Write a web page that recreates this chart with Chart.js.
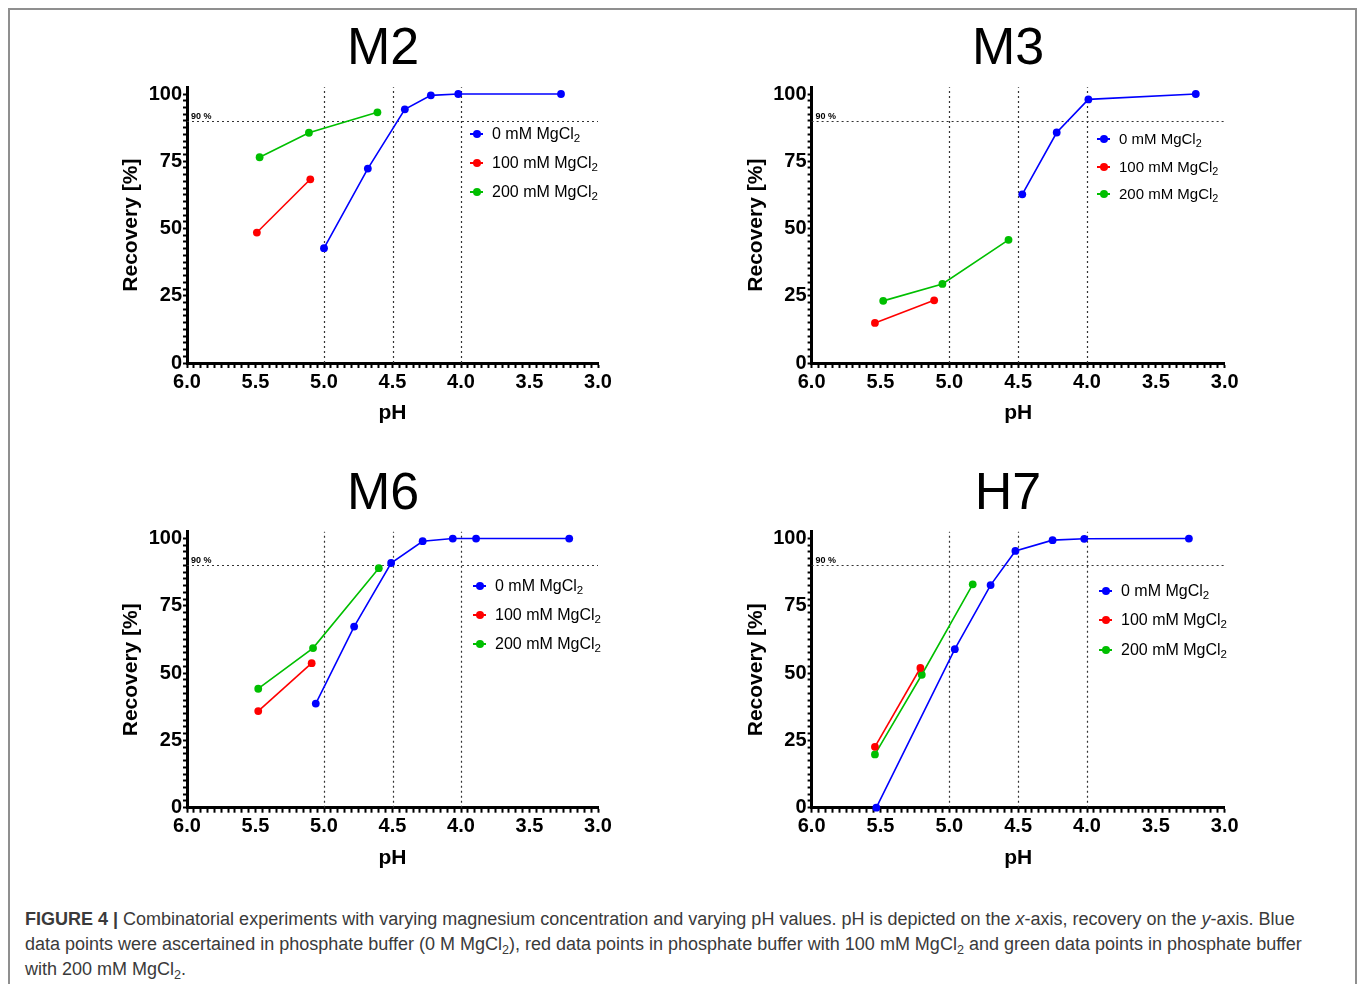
<!DOCTYPE html>
<html>
<head>
<meta charset="utf-8">
<script src="https://cdn.jsdelivr.net/npm/chart.js@4.4.0/dist/chart.umd.min.js"></script>
<style>
  body { margin: 0; background: #fff; font-family: "Liberation Sans", Arial, sans-serif; overflow: hidden; }
  #frame { position: absolute; left: 8px; top: 8px; width: 1345px; height: 1000px; border: 2px solid #8f8f8f; }
  .panel { position: absolute; width: 520px; height: 380px; }
  .panel canvas { display: block; }
  .ptitle { position: absolute; width: 200px; margin-left: -100px; text-align: center; font-size: 52px; line-height: 52px; color: #000; }
  .lrow { position: absolute; height: 20px; font-size: 16px; line-height: 20px; color: #000; white-space: nowrap; }
  .lrow .ln { position: absolute; left: 0; top: 9px; width: 13px; height: 2px; }
  .lrow .dot { position: absolute; left: 3px; top: 6px; width: 8px; height: 8px; border-radius: 50%; }
  .lrow .txt { position: absolute; left: 22px; top: 0; }
  .lrow sub { font-size: 0.72em; vertical-align: -0.28em; line-height: 0; }
  #caption { position: absolute; left: 25px; top: 907px; font-size: 18px; line-height: 25px; color: #3a3a3a; white-space: nowrap; }
  #caption sub { font-size: 0.7em; vertical-align: -0.3em; line-height: 0; }
</style>
</head>
<body>
<div id="frame"></div>
<div id="panels"></div>
<div id="caption">
  <b>FIGURE 4 |</b> Combinatorial experiments with varying magnesium concentration and varying pH values. pH is depicted on the <i>x</i>-axis, recovery on the <i>y</i>-axis. Blue<br>
  data points were ascertained in phosphate buffer (0 M MgCl<sub>2</sub>), red data points in phosphate buffer with 100 mM MgCl<sub>2</sub> and green data points in phosphate buffer<br>
  with 200 mM MgCl<sub>2</sub>.
</div>

<script>
// series names (MgCl2 concentration)
const concLabels = ['0 mM', '100 mM', '200 mM'];
const seriesColors = ['#0000ff', '#ff0000', '#00bf00'];

// axis ticks
const phTickLabels = [6.0, 5.5, 5.0, 4.5, 4.0, 3.5, 3.0];
const recTickLabels = [0, 25, 50, 75, 100];
const refPh = [5.0, 4.5, 4.0];   // dotted vertical lines
const refRecovery = 90;          // dotted 90 % line

// M2
const phM2Blue = [5.00, 4.68, 4.41, 4.22, 4.02, 3.27];
const recM2Blue = [42.7, 72.3, 94.3, 99.5, 100, 100];
const phM2Red = [5.49, 5.10];
const recM2Red = [48.5, 68.3];
const phM2Green = [5.47, 5.11, 4.61];
const recM2Green = [76.5, 85.6, 93.2];

// M3
const phM3Blue = [4.47, 4.22, 3.99, 3.21];
const recM3Blue = [62.7, 85.7, 98.0, 100];
const phM3Red = [5.54, 5.11];
const recM3Red = [14.9, 23.3];
const phM3Green = [5.48, 5.05, 4.57];
const recM3Green = [23.1, 29.4, 45.8];

// M6
const phM6Blue = [5.06, 4.78, 4.51, 4.28, 4.06, 3.89, 3.21];
const recM6Blue = [38.7, 67.3, 90.9, 99.0, 100, 100, 100];
const phM6Red = [5.48, 5.09];
const recM6Red = [35.9, 53.7];
const phM6Green = [5.48, 5.08, 4.60];
const recM6Green = [44.2, 59.3, 89.0];

// H7
const phH7Blue = [5.53, 4.96, 4.70, 4.52, 4.25, 4.02, 3.26];
const recH7Blue = [0, 58.9, 82.7, 95.4, 99.4, 99.9, 100];
const phH7Red = [5.54, 5.21];
const recH7Red = [22.6, 51.9];
const phH7Green = [5.54, 5.20, 4.83];
const recH7Green = [19.8, 49.4, 83.0];

const panels = [
  { name: 'M2', ph: [phM2Blue, phM2Red, phM2Green], rec: [recM2Blue, recM2Red, recM2Green],
    left: 100, top: 60, yWidth: 87, padTop: 27.3, padRight: 22, xHeight: 77,
    titleX: 383, titleY: 20, legX: 470, legY: [134, 163, 192], legFont: 16 },
  { name: 'M3', ph: [phM3Blue, phM3Red, phM3Green], rec: [recM3Blue, recM3Red, recM3Green],
    left: 725, top: 60, yWidth: 86.6, padTop: 27.3, padRight: 20.3, xHeight: 77,
    titleX: 1008, titleY: 20, legX: 1097, legY: [139, 167, 194], legFont: 15 },
  { name: 'M6', ph: [phM6Blue, phM6Red, phM6Green], rec: [recM6Blue, recM6Red, recM6Green],
    left: 100, top: 505, yWidth: 87, padTop: 26.8, padRight: 22, xHeight: 77.3,
    titleX: 383, titleY: 465, legX: 473, legY: [586, 615, 644], legFont: 16 },
  { name: 'H7', ph: [phH7Blue, phH7Red, phH7Green], rec: [recH7Blue, recH7Red, recH7Green],
    left: 725, top: 505, yWidth: 86.6, padTop: 26.8, padRight: 20.3, xHeight: 77.3,
    titleX: 1008, titleY: 465, legX: 1099, legY: [591, 620, 650], legFont: 16 }
];

// dotted reference lines + "90 %" label
const refLines = {
  id: 'refLines',
  beforeDatasetsDraw(chart) {
    const { ctx, chartArea, scales } = chart;
    ctx.save();
    ctx.strokeStyle = '#333';
    ctx.lineWidth = 1.2;
    ctx.setLineDash([2, 3]);
    refPh.forEach(v => {
      const x = Math.round(scales.x.getPixelForValue(v)) + 0.5;
      ctx.beginPath();
      ctx.moveTo(x, chartArea.bottom);
      ctx.lineTo(x, chartArea.top);
      ctx.stroke();
    });
    const y = Math.round(scales.y.getPixelForValue(refRecovery)) + 0.5;
    ctx.beginPath();
    ctx.moveTo(chartArea.left, y);
    ctx.lineTo(chartArea.right, y);
    ctx.stroke();
    ctx.setLineDash([]);
    ctx.fillStyle = '#000';
    ctx.font = 'bold 9px "Liberation Sans", Arial, sans-serif';
    ctx.textBaseline = 'alphabetic';
    ctx.fillText('90 %', chartArea.left + 4, y - 3);
    ctx.restore();
  }
};

const axisFont = { family: '"Liberation Sans", Arial, sans-serif', size: 20, weight: 'bold' };
const titleFont = { family: '"Liberation Sans", Arial, sans-serif', size: 21, weight: 'bold' };

function makePanel(p) {
  const holder = document.getElementById('panels');

  const t = document.createElement('div');
  t.className = 'ptitle';
  t.style.left = p.titleX + 'px';
  t.style.top = p.titleY + 'px';
  t.textContent = p.name;
  holder.appendChild(t);

  const wrap = document.createElement('div');
  wrap.className = 'panel';
  wrap.style.left = p.left + 'px';
  wrap.style.top = p.top + 'px';
  const canvas = document.createElement('canvas');
  canvas.width = 520;
  canvas.height = 380;
  canvas.style.width = '520px';
  canvas.style.height = '380px';
  wrap.appendChild(canvas);
  holder.appendChild(wrap);

  const datasets = concLabels.map((c, i) => ({
    label: c + ' MgCl2',
    data: p.ph[i].map((x, k) => ({ x: x, y: p.rec[i][k] })),
    borderColor: seriesColors[i],
    backgroundColor: seriesColors[i],
    pointBackgroundColor: seriesColors[i],
    borderWidth: 1.6,
    pointRadius: 3.9,
    pointBorderWidth: 0,
    tension: 0,
    clip: false
  }));

  new Chart(canvas, {
    type: 'line',
    data: { datasets: datasets },
    options: {
      responsive: false,
      animation: false,
      devicePixelRatio: 1,
      layout: { padding: { top: p.padTop, right: p.padRight, left: 0, bottom: 0 } },
      plugins: { legend: { display: false }, tooltip: { enabled: false } },
      scales: {
        x: {
          type: 'linear',
          reverse: true,
          min: phTickLabels[phTickLabels.length - 1],
          max: phTickLabels[0],
          afterBuildTicks: (scale) => {
            const ticks = [];
            for (let v = 300; v <= 600; v += 5) ticks.push({ value: v / 100 });
            scale.ticks = ticks;
          },
          afterFit: (scale) => { scale.height = p.xHeight; },
          ticks: {
            autoSkip: false, maxRotation: 0, minRotation: 0, padding: 2,
            color: '#000', font: axisFont,
            callback: (v) => phTickLabels.some(t => Math.abs(t - v) < 1e-6) ? v.toFixed(1) : ''
          },
          grid: { drawOnChartArea: false, drawTicks: true, tickLength: 5, tickWidth: 2, tickColor: '#000' },
          border: { display: true, color: '#000', width: 3 },
          title: { display: true, text: 'pH', color: '#000', font: titleFont, padding: { top: 0, bottom: 14 } }
        },
        y: {
          type: 'linear',
          min: 0,
          max: 102.5,
          afterBuildTicks: (scale) => {
            const ticks = [];
            for (let v = 0; v <= 1000; v += 25) ticks.push({ value: v / 10 });
            scale.ticks = ticks;
          },
          afterFit: (scale) => { scale.width = p.yWidth; },
          ticks: {
            autoSkip: false, padding: 1,
            color: '#000', font: axisFont,
            callback: (v) => recTickLabels.includes(v) ? String(v) : ''
          },
          grid: { drawOnChartArea: false, drawTicks: true, tickLength: 4, tickWidth: 2, tickColor: '#000' },
          border: { display: true, color: '#000', width: 3 },
          title: { display: true, text: 'Recovery [%]', color: '#000', font: titleFont, padding: { top: 19, bottom: 0 } }
        }
      }
    },
    plugins: [refLines]
  });

  // legend
  concLabels.forEach((c, i) => {
    const row = document.createElement('div');
    row.className = 'lrow';
    row.style.left = p.legX + 'px';
    row.style.top = (p.legY[i] - 10) + 'px';
    row.style.fontSize = p.legFont + 'px';
    row.innerHTML = '<span class="ln" style="background:' + seriesColors[i] + '"></span>' +
      '<span class="dot" style="background:' + seriesColors[i] + '"></span>' +
      '<span class="txt">' + c + ' MgCl<sub>2</sub></span>';
    holder.appendChild(row);
  });
}

panels.forEach(makePanel);
</script>
</body>
</html>
